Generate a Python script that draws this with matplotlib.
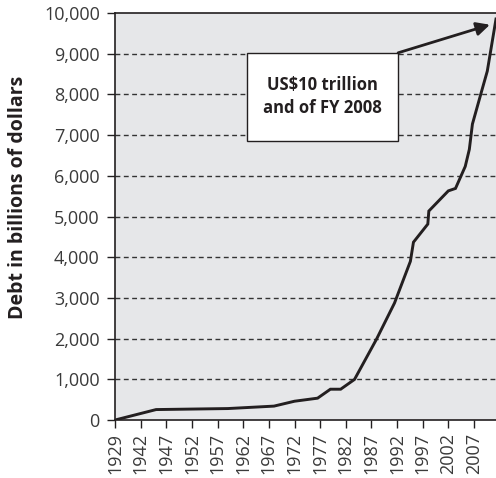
import numpy as np
import matplotlib
matplotlib.use("Agg")
from matplotlib import pyplot as plt
from matplotlib.patches import Rectangle
from matplotlib.ticker import FuncFormatter

# Debt readings (billions of dollars) by fiscal year
years = [1930, 1945, 1959, 1968, 1972, 1976.5, 1979, 1981, 1983.7, 1988,
         1991.5, 1994.6, 1995.2, 1998, 1998.2, 2002, 2003.4, 2005.3, 2006.1,
         2006.7, 2008.5, 2009.6, 2011.3]
debt = [16, 260, 285, 345, 465, 540, 760, 760, 1000, 1990,
        2875, 3900, 4370, 4815, 5135, 5630, 5690, 6230, 6650,
        7270, 8080, 8570, 9850]

xtickYears = [1929, 1942, 1947, 1952, 1957, 1962, 1967, 1972, 1977, 1982,
              1987, 1992, 1997, 2002, 2007]
yticks = np.arange(0, 10001, 1000)
noteText = "US$10 trillion\nand of FY 2008"

BG = "#e6e7e9"
INK = "#231f20"


# 1929-1942 is squeezed into one tick gap on the original axis
def fwd(x):
    x = np.asarray(x, dtype=float)
    return np.where(x < 1942, 1937 + (x - 1929) * 5 / 13, x)


def inv(x):
    x = np.asarray(x, dtype=float)
    return np.where(x < 1942, 1929 + (x - 1937) * 13 / 5, x)


def main():
    fig = plt.figure(figsize=(4.96, 4.78), dpi=100)
    ax = fig.add_axes([0.232, 0.121, 0.768, 0.852])
    ax.set_facecolor(BG)

    ax.set_xscale("function", functions=(fwd, inv))
    ax.plot(years, debt, color=INK, lw=2.1, solid_joinstyle="miter", zorder=3)

    ax.set_xlim(1929, 2011.3)
    ax.set_ylim(0, 10000)

    ax.set_xticks(xtickYears)
    ax.set_xticklabels([str(y) for y in xtickYears], rotation=90)
    ax.set_yticks(yticks)
    ax.yaxis.set_major_formatter(FuncFormatter(lambda v, p: f"{int(v):,}"))
    ax.minorticks_off()
    ax.tick_params(direction="out", length=6, width=1, color=INK,
                  labelsize=13, labelcolor="#3a3a3a")
    ax.tick_params(axis="y", pad=5)
    ax.tick_params(axis="x", pad=3)
    for lab in ax.get_xticklabels() + ax.get_yticklabels():
        lab.set_family("Open Sans")

    # dashed grid, skip 0 and top edge
    for v in yticks[1:-1]:
        ax.axhline(v, color="#333333", lw=1.0, ls=(0, (3.5, 2.5)), zorder=1)

    for side in ["left", "top", "bottom"]:
        ax.spines[side].set_color(INK)
        ax.spines[side].set_linewidth(1.2)
    ax.spines["right"].set_visible(False)

    fig.text(0.037, 0.588, "Debt in billions of dollars", rotation=90,
             ha="center", va="center", fontsize=14, fontweight="bold",
             family="Open Sans", color=INK)

    # annotation box + arrow
    ax.add_patch(Rectangle((0.346, 0.686), 0.397, 0.216, transform=ax.transAxes,
                           facecolor="white", edgecolor=INK, lw=1.0, zorder=4))
    ax.text(0.545, 0.794, noteText, transform=ax.transAxes, ha="center",
            va="center", fontsize=12, fontweight="bold", family="Open Sans",
            color=INK, linespacing=1.35, zorder=5)
    ax.annotate("", xy=(0.984, 0.971), xytext=(0.743, 0.902),
                xycoords="axes fraction", textcoords="axes fraction",
                arrowprops=dict(arrowstyle="-|>", color=INK, lw=2.0,
                                mutation_scale=20, shrinkA=0, shrinkB=0),
                zorder=5)

    fig.savefig("out.png", dpi=100)


if __name__ == '__main__':
    main()
